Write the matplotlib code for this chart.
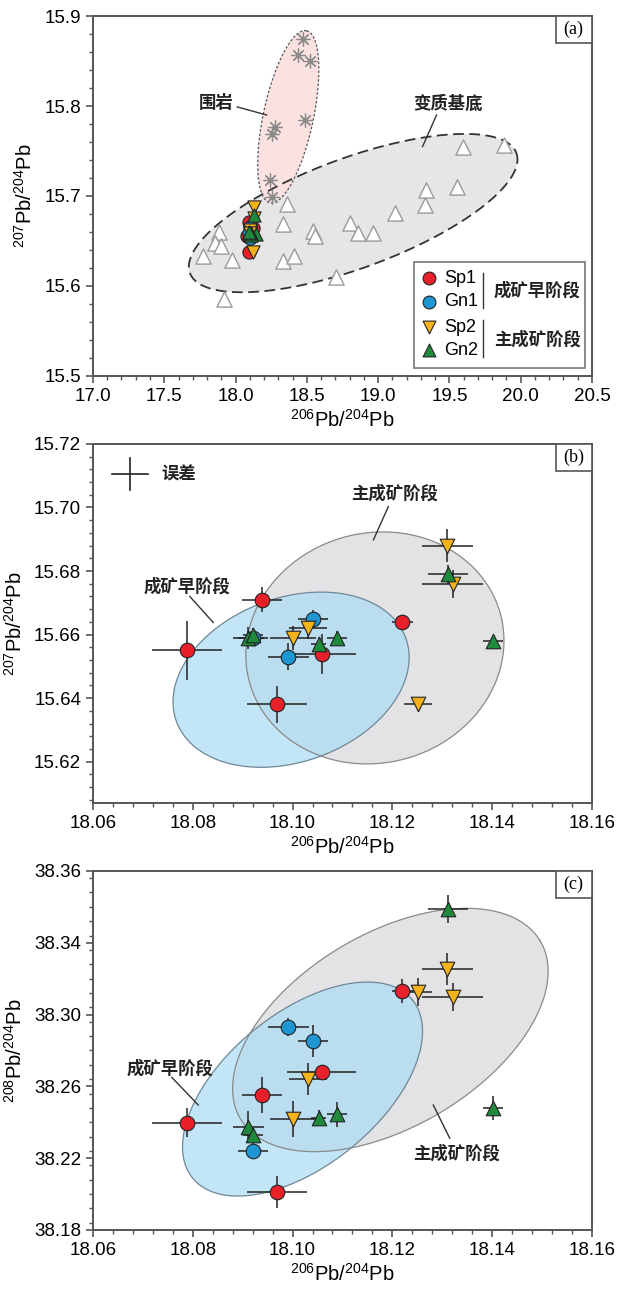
import numpy as np
import matplotlib
matplotlib.use('Agg')
import matplotlib.pyplot as plt
from matplotlib.ticker import MultipleLocator, FormatStrFormatter
from matplotlib.patches import Rectangle

plt.rcParams['font.family'] = ['Liberation Sans', 'Noto Sans CJK SC', 'DejaVu Sans']
plt.rcParams['mathtext.default'] = 'regular'

# 变质基底 (open triangles) and 围岩 (asterisks), panel (a)
base_x = [19.593, 19.882, 19.335, 19.550, 19.328, 19.118, 18.363, 18.802, 18.860, 18.961, 18.545,
          18.557, 18.335, 17.886, 17.856, 17.896, 17.774, 17.973, 18.335, 18.410, 18.704, 17.919]
base_y = [15.755, 15.757, 15.707, 15.710, 15.690, 15.681, 15.691, 15.670, 15.659, 15.659, 15.661,
          15.656, 15.669, 15.660, 15.648, 15.644, 15.633, 15.629, 15.628, 15.633, 15.610, 15.586]
wall_x = [18.475, 18.440, 18.522, 18.276, 18.253, 18.487, 18.241, 18.253]
wall_y = [15.875, 15.857, 15.850, 15.777, 15.769, 15.784, 15.718, 15.699]

# ore samples: 206Pb/204Pb, 207Pb/204Pb, 208Pb/204Pb and errors
sp1_x = [18.0939, 18.0789, 18.1058, 18.1220, 18.0969]
sp1_xe = [0.0040, 0.0070, 0.0069, 0.0021, 0.0060]
sp1_y7 = [15.671, 15.655, 15.654, 15.664, 15.638]
sp1_y7e = [0.0039, 0.0094, 0.0063, 0.0016, 0.0058]
sp1_y8 = [38.2552, 38.2398, 38.2678, 38.3131, 38.2010]
sp1_y8e = [0.0099, 0.0080, 0.0040, 0.0065, 0.0088]

gn1_x = [18.1041, 18.0991, 18.0921]
gn1_xe = [0.0031, 0.0041, 0.0030]
gn1_y7 = [15.665, 15.653, 15.659]
gn1_y7e = [0.0028, 0.0042, 0.0020]
gn1_y8 = [38.2853, 38.2932, 38.2242]
gn1_y8e = [0.0088, 0.0050, 0.0040]

sp2_x = [18.1310, 18.1321, 18.1031, 18.1000, 18.1252]
sp2_xe = [0.0051, 0.0061, 0.0039, 0.0046, 0.0028]
sp2_y7 = [15.688, 15.676, 15.662, 15.659, 15.638]
sp2_y7e = [0.0053, 0.0044, 0.0034, 0.0037, 0.0020]
sp2_y8 = [38.3252, 38.3097, 38.2641, 38.2418, 38.3127]
sp2_y8e = [0.0089, 0.0078, 0.0087, 0.0102, 0.0078]

gn2_x = [18.1311, 18.1401, 18.1090, 18.1052, 18.0911, 18.0921]
gn2_xe = [0.0040, 0.0020, 0.0020, 0.0015, 0.0031, 0.0020]
gn2_y7 = [15.679, 15.658, 15.659, 15.657, 15.659, 15.660]
gn2_y7e = [0.0030, 0.0015, 0.0020, 0.0022, 0.0034, 0.0020]
gn2_y8 = [38.3586, 38.2479, 38.2445, 38.2426, 38.2375, 38.2329]
gn2_y8e = [0.0078, 0.0067, 0.0069, 0.0040, 0.0085, 0.0040]

c38_ticks = [38.18, 38.22, 38.26, 38.30, 38.34, 38.38]
c38_labels = ['38.18', '38.22', '38.26', '38.30', '38.34', '38.36']

RED, BLUE, YEL, GRN = '#e8202a', '#1e96d2', '#f5b21a', '#1f8a3c'
SPINE = '#555555'
CJK = ['Noto Sans CJK SC', 'DejaVu Sans']

groups = [
    ('Sp1', 'o', RED, sp1_x, sp1_xe, sp1_y7, sp1_y7e, sp1_y8, sp1_y8e),
    ('Gn1', 'o', BLUE, gn1_x, gn1_xe, gn1_y7, gn1_y7e, gn1_y8, gn1_y8e),
    ('Sp2', 'v', YEL, sp2_x, sp2_xe, sp2_y7, sp2_y7e, sp2_y8, sp2_y8e),
    ('Gn2', '^', GRN, gn2_x, gn2_xe, gn2_y7, gn2_y7e, gn2_y8, gn2_y8e),
]


def ellipse(ax, c, u, v, face, edge, lw=1.0, ls='-', alpha=1.0, z=1):
    t = np.linspace(0, 2 * np.pi, 300)
    x = c[0] + u[0] * np.cos(t) + v[0] * np.sin(t)
    y = c[1] + u[1] * np.cos(t) + v[1] * np.sin(t)
    ax.fill(x, y, facecolor=face, edgecolor='none', alpha=alpha, zorder=z)
    ax.plot(x, y, color=edge, lw=lw, ls=ls, zorder=z + 0.5)


def style(ax):
    for s in ax.spines.values():
        s.set_color(SPINE)
        s.set_linewidth(1.4)
    ax.tick_params(which='both', direction='out', color=SPINE, labelsize=13.5)
    ax.tick_params(which='major', length=5, width=1.2)
    ax.tick_params(which='minor', length=3, width=1.0)


def panel_tag(ax, s):
    ax.add_patch(Rectangle((0.927, 0.924), 0.073, 0.076, transform=ax.transAxes,
                           facecolor='white', edgecolor=SPINE, lw=1.2, zorder=10))
    ax.text(0.9635, 0.962, s, transform=ax.transAxes, ha='center', va='center',
            family='Liberation Serif', fontsize=13, zorder=11)


def cjk(ax, x, y, s, **kw):
    ax.text(x, y, s, family=CJK, fontsize=12.5, fontweight='bold', color='#222222',
            va='center', **kw)


fig = plt.figure(figsize=(6.17, 12.92), dpi=100)
axa = fig.add_axes([0.1507, 0.7090, 0.8087, 0.2786])
axb = fig.add_axes([0.1507, 0.3785, 0.8087, 0.2779])
axc = fig.add_axes([0.1507, 0.0480, 0.8087, 0.2779])

# ---------------- (a)
ax = axa
ellipse(ax, (18.825, 15.681), (1.145, 0.0667), (0.133, -0.0574), '#e6e6e8', '#333333',
        lw=1.3, ls=(0, (6, 3)), z=1)
ellipse(ax, (18.370, 15.788), (0.128, 0.0956), (0.172, -0.0058), '#fbe1df', '#555555',
        lw=0.9, ls=(0, (2, 1.5)), z=1.2)
ax.scatter(wall_x, wall_y, marker=(8, 2, 0), s=90, color='#8a8a8a', lw=0.9, zorder=3)
ax.scatter(base_x, base_y, marker='^', s=120, facecolor='white', edgecolor='#9a9a9a',
           lw=1.0, zorder=3)
for name, m, col, x, xe, y7, y7e, y8, y8e in groups:
    ax.scatter(x, y7, marker=m, s=90, facecolor=col, edgecolor='#222222', lw=0.8, zorder=4)
cjk(ax, 17.867, 15.803, '围岩', ha='center')
ax.plot([18.012, 18.218], [15.799, 15.790], color='#333333', lw=1.0)
cjk(ax, 19.492, 15.803, '变质基底', ha='center')
ax.plot([19.410, 19.312], [15.790, 15.755], color='#333333', lw=1.0)
ax.set_xlim(17.0, 20.5)
ax.set_ylim(15.5, 15.9)
ax.xaxis.set_major_locator(MultipleLocator(0.5))
ax.xaxis.set_minor_locator(MultipleLocator(0.1))
ax.yaxis.set_major_locator(MultipleLocator(0.1))
ax.yaxis.set_minor_locator(MultipleLocator(0.02))
ax.xaxis.set_major_formatter(FormatStrFormatter('%.1f'))
ax.yaxis.set_major_formatter(FormatStrFormatter('%.1f'))
ax.set_xlabel(r'$^{206}$Pb/$^{204}$Pb', fontsize=14.5, labelpad=3)
ax.set_ylabel(r'$^{207}$Pb/$^{204}$Pb', fontsize=14.5, labelpad=6)
style(ax)
panel_tag(ax, '(a)')

# legend of (a)
ax.add_patch(Rectangle((0.643, 0.022), 0.343, 0.296, transform=ax.transAxes,
                       facecolor='white', edgecolor='#777777', lw=1.2, zorder=6))
rows = [0.272, 0.206, 0.136, 0.072]
for (name, m, col, *_), ry in zip(groups, rows):
    ax.scatter([0.673], [ry], marker=m, s=85, facecolor=col, edgecolor='#222222', lw=0.8,
               transform=ax.transAxes, zorder=7)
    ax.text(0.703, ry, name, transform=ax.transAxes, fontsize=13, va='center', zorder=7)
ax.plot([0.782, 0.782], [0.189, 0.286], color='#333333', lw=1.0, transform=ax.transAxes, zorder=7)
ax.plot([0.782, 0.782], [0.053, 0.156], color='#333333', lw=1.0, transform=ax.transAxes, zorder=7)
cjk(ax, 0.890, 0.237, '成矿早阶段', ha='center', transform=ax.transAxes, zorder=7)
cjk(ax, 0.890, 0.100, '主成矿阶段', ha='center', transform=ax.transAxes, zorder=7)

# ---------------- (b) and (c)
def ore_panel(ax, k):
    for name, m, col, x, xe, y7, y7e, y8, y8e in groups:
        y, ye = (y7, y7e) if k == 7 else (y8, y8e)
        ax.errorbar(x, y, xerr=xe, yerr=ye, fmt='none', ecolor='#222222', elinewidth=1.1,
                    capsize=0, zorder=3)
        ax.scatter(x, y, marker=m, s=110, facecolor=col, edgecolor='#222222', lw=0.8, zorder=4)
    ax.set_xlim(18.06, 18.16)
    ax.xaxis.set_major_locator(MultipleLocator(0.02))
    ax.xaxis.set_minor_locator(MultipleLocator(0.004))
    ax.xaxis.set_major_formatter(FormatStrFormatter('%.2f'))
    ax.set_xlabel(r'$^{206}$Pb/$^{204}$Pb', fontsize=14.5, labelpad=3)
    style(ax)


ax = axb
ellipse(ax, (18.1165, 15.6558), (0.02517, 0.0106), (0.00597, -0.03494), '#e3e3e5', '#8a8a8a',
        lw=0.9, z=1)
ellipse(ax, (18.0997, 15.6458), (0.02298, 0.01312), (0.00562, -0.02425), '#a9dcf4', '#6f8796',
        lw=0.9, alpha=0.7, z=1.2)
ore_panel(ax, 7)
ax.set_ylim(15.607, 15.72)
ax.yaxis.set_major_locator(MultipleLocator(0.02))
ax.yaxis.set_minor_locator(MultipleLocator(0.004))
ax.yaxis.set_major_formatter(FormatStrFormatter('%.2f'))
ax.set_ylabel(r'$^{207}$Pb/$^{204}$Pb', fontsize=14.5, labelpad=6)
cjk(ax, 18.1205, 15.7045, '主成矿阶段', ha='center')
ax.plot([18.1192, 18.1162], [15.7003, 15.6898], color='#333333', lw=1.0)
cjk(ax, 18.0788, 15.6751, '成矿早阶段', ha='center')
ax.plot([18.0794, 18.0841], [15.6720, 15.6638], color='#333333', lw=1.0)
ax.plot([0.038, 0.110], [0.916, 0.916], color='#222222', lw=1.2, transform=ax.transAxes)
ax.plot([0.074, 0.074], [0.872, 0.961], color='#222222', lw=1.2, transform=ax.transAxes)
cjk(ax, 0.138, 0.916, '误差', transform=ax.transAxes)
panel_tag(ax, '(b)')

ax = axc
ellipse(ax, (18.1196, 38.2914), (0.03004, 0.04957), (0.00988, -0.04623), '#e3e3e5', '#8a8a8a',
        lw=0.9, z=1)
ellipse(ax, (18.1020, 38.2585), (0.02204, 0.04957), (0.00963, -0.03308), '#a9dcf4', '#6f8796',
        lw=0.9, alpha=0.7, z=1.2)
ore_panel(ax, 8)
ax.set_ylim(38.18, 38.38)
ax.set_yticks(c38_ticks)
ax.set_yticklabels(c38_labels)
ax.yaxis.set_minor_locator(MultipleLocator(0.008))
ax.set_ylabel(r'$^{208}$Pb/$^{204}$Pb', fontsize=14.5, labelpad=6)
cjk(ax, 18.0754, 38.2700, '成矿早阶段', ha='center')
ax.plot([18.0758, 18.0811], [38.2650, 38.2496], color='#333333', lw=1.0)
cjk(ax, 18.1329, 38.2227, '主成矿阶段', ha='center')
ax.plot([18.1315, 18.1282], [38.2311, 38.2496], color='#333333', lw=1.0)
panel_tag(ax, '(c)')

fig.savefig('out.png', dpi=100)
